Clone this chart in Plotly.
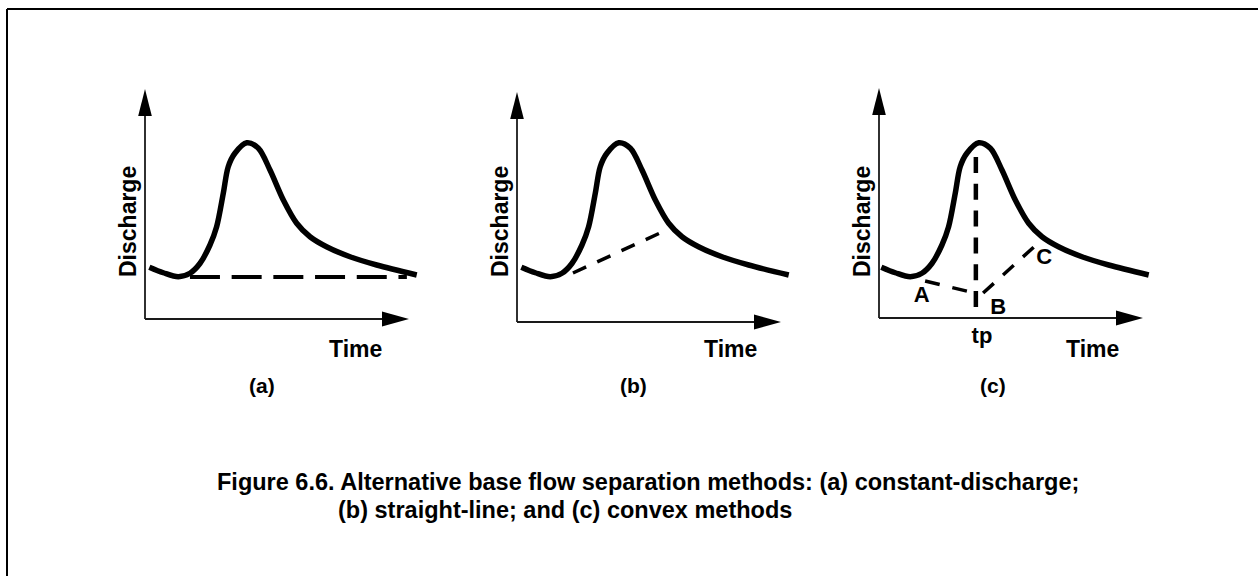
import plotly.graph_objects as go

# ---------------- data (arbitrary time / discharge units) ----------------
PANEL_LABELS = ["(a)", "(b)", "(c)"]
AXIS_TITLES_X = ["Time", "Time", "Time"]
AXIS_TITLES_Y = ["Discharge", "Discharge", "Discharge"]

# storm hydrograph (same shape drawn in all three panels)
HYDRO_T = [0.15, 0.63, 1.15, 1.55, 1.90, 2.24, 2.47, 2.70, 2.87, 3.10, 3.51,
           3.91, 4.31, 4.77, 5.23, 5.69, 6.26, 7.07, 7.99, 9.37]
HYDRO_Q = [2.07, 1.85, 1.69, 1.83, 2.23, 2.96, 3.69, 5.03, 6.09, 6.63, 7.05,
           6.83, 5.96, 4.76, 3.83, 3.29, 2.89, 2.49, 2.16, 1.76]

# where each panel's axes cross (time, discharge)
AXIS_ORIGIN_T = [0.0, 0.0, 0.07]
AXIS_ORIGIN_Q = [0.0, -0.12, 0.04]

# (a) constant-discharge separation
BASE_A_T = [1.55, 9.03]
BASE_A_Q = [1.68, 1.68]
# (b) straight-line separation
BASE_B_T = [1.93, 4.93]
BASE_B_Q = [1.84, 3.44]
# (c) convex method: A -> B, B -> C and the peak-time line
CONV_AB_T = [1.66, 3.15]
CONV_AB_Q = [1.52, 1.10]
CONV_BC_T = [3.66, 5.41]
CONV_BC_Q = [1.04, 2.88]
TP_T = [3.41, 3.41]
TP_Q = [6.48, 0.48]
POINT_LABELS = ["A", "B", "C", "tp"]
POINT_T = [1.54, 4.18, 5.77, 3.62]
POINT_Q = [0.92, 0.44, 2.44, -0.72]

CAPTION_1 = "Figure 6.6. Alternative base flow separation methods: (a) constant-discharge;"
CAPTION_2 = "(b) straight-line; and (c) convex methods"

# ---------------- layout geometry (pixels) ----------------
W, H = 1258, 576
ORIGIN_PX = [(145, 319), (517, 322), (879, 318)]
SX, SY = 29.0, 25.0          # pixels per data unit
SPAN_T, SPAN_Q = 10.0, 10.0
PAD_PX = 30                  # room left of / below the axes
YTIP_PX, XTIP_PX = 230, 264  # axis arrow tip distance from origin
ARROW_LEN, ARROW_HW = 27, 6.8
FONT = "Liberation Sans, Arial, sans-serif"


def fx(p):
    return p / W


def fy(p):
    return 1 - p / H


fig = go.Figure()
shapes = []
annotations = []

for i in range(3):
    ox, oy = ORIGIN_PX[i]
    t0, q0 = AXIS_ORIGIN_T[i], AXIS_ORIGIN_Q[i]
    xa = "xaxis" if i == 0 else f"xaxis{i + 1}"
    ya = "yaxis" if i == 0 else f"yaxis{i + 1}"
    xr = "x" if i == 0 else f"x{i + 1}"
    yr = "y" if i == 0 else f"y{i + 1}"
    fig.update_layout({
        xa: dict(domain=[fx(ox - PAD_PX), fx(ox + SPAN_T * SX)],
                 range=[t0 - PAD_PX / SX, t0 + SPAN_T],
                 visible=False, anchor=yr, fixedrange=True),
        ya: dict(domain=[fy(oy + PAD_PX), fy(oy - SPAN_Q * SY)],
                 range=[q0 - PAD_PX / SY, q0 + SPAN_Q],
                 visible=False, anchor=xr, fixedrange=True),
    })

    # axes with arrowheads
    ytip = q0 + YTIP_PX / SY
    ybase = ytip - ARROW_LEN / SY
    xtip = t0 + XTIP_PX / SX
    xbase = xtip - ARROW_LEN / SX
    axis_line = dict(color="#1a1a1a", width=1.8)
    shapes.append(dict(type="line", xref=xr, yref=yr, x0=t0, y0=q0, x1=t0, y1=ybase + 0.1,
                       line=axis_line))
    shapes.append(dict(type="line", xref=xr, yref=yr, x0=t0, y0=q0, x1=xbase + 0.1, y1=q0,
                       line=axis_line))
    hw_t = ARROW_HW / SX
    hw_q = ARROW_HW * 1.1 / SY
    shapes.append(dict(type="path", xref=xr, yref=yr,
                       path=f"M {t0 - hw_t} {ybase} L {t0} {ytip} L {t0 + hw_t} {ybase} Z",
                       fillcolor="black", line=dict(width=0)))
    shapes.append(dict(type="path", xref=xr, yref=yr,
                       path=f"M {xbase} {q0 - hw_q} L {xtip} {q0} L {xbase} {q0 + hw_q} Z",
                       fillcolor="black", line=dict(width=0)))

    # hydrograph
    fig.add_trace(go.Scatter(x=HYDRO_T, y=HYDRO_Q, mode="lines", xaxis=xr, yaxis=yr,
                             line=dict(color="black", width=5.5, shape="spline", smoothing=0.9),
                             hoverinfo="skip", showlegend=False))

    # labels
    annotations.append(dict(text=f"<b>{AXIS_TITLES_Y[i]}</b>", xref="paper", yref="paper",
                            x=fx(ox - 17), y=fy(222), textangle=-90, showarrow=False,
                            xanchor="center", yanchor="middle",
                            font=dict(family=FONT, size=23, color="black")))
    annotations.append(dict(text=f"<b>{AXIS_TITLES_X[i]}</b>", xref="paper", yref="paper",
                            x=fx(ox + 210 + (0 if i == 0 else 3)), y=fy(349), showarrow=False,
                            xanchor="center", yanchor="middle",
                            font=dict(family=FONT, size=23, color="black")))
    annotations.append(dict(text=f"<b>{PANEL_LABELS[i]}</b>", xref="paper", yref="paper",
                            x=fx(ox + 117 - (0 if i < 2 else 3)), y=fy(385), showarrow=False,
                            xanchor="center", yanchor="middle",
                            font=dict(family=FONT, size=21, color="black")))

# baseflow separation lines
fig.add_trace(go.Scatter(x=BASE_A_T, y=BASE_A_Q, mode="lines", xaxis="x", yaxis="y",
                         line=dict(color="black", width=4, dash="30px,11.7px"),
                         hoverinfo="skip", showlegend=False))
fig.add_trace(go.Scatter(x=BASE_B_T, y=BASE_B_Q, mode="lines", xaxis="x2", yaxis="y2",
                         line=dict(color="black", width=3.5, dash="14.5px,12.2px"),
                         hoverinfo="skip", showlegend=False))
fig.add_trace(go.Scatter(x=CONV_AB_T, y=CONV_AB_Q, mode="lines", xaxis="x3", yaxis="y3",
                         line=dict(color="black", width=3.5, dash="15px,13px"),
                         hoverinfo="skip", showlegend=False))
fig.add_trace(go.Scatter(x=CONV_BC_T, y=CONV_BC_Q, mode="lines", xaxis="x3", yaxis="y3",
                         line=dict(color="black", width=3.5, dash="14.4px,12.5px"),
                         hoverinfo="skip", showlegend=False))
fig.add_trace(go.Scatter(x=TP_T, y=TP_Q, mode="lines", xaxis="x3", yaxis="y3",
                         line=dict(color="black", width=4.5, dash="16px,10.8px"),
                         hoverinfo="skip", showlegend=False))
fig.add_trace(go.Scatter(x=POINT_T, y=POINT_Q, mode="text", xaxis="x3", yaxis="y3",
                         text=[f"<b>{s}</b>" for s in POINT_LABELS], cliponaxis=False,
                         textposition="middle center",
                         textfont=dict(family=FONT, size=22, color="black"),
                         hoverinfo="skip", showlegend=False))

# caption
annotations.append(dict(text=f"<b>{CAPTION_1}</b>", xref="paper", yref="paper",
                        x=fx(215), y=fy(482), showarrow=False, xanchor="left", yanchor="middle",
                        font=dict(family=FONT, size=23.5, color="black")))
annotations.append(dict(text=f"<b>{CAPTION_2}</b>", xref="paper", yref="paper",
                        x=fx(336), y=fy(510), showarrow=False, xanchor="left", yanchor="middle",
                        font=dict(family=FONT, size=23.5, color="black")))

# frame (only top and left edges fall inside the picture)
frame = dict(color="black", width=2)
shapes.append(dict(type="line", xref="paper", yref="paper", x0=fx(7), y0=fy(9), x1=fx(1300), y1=fy(9),
                   line=frame))
shapes.append(dict(type="line", xref="paper", yref="paper", x0=fx(7), y0=fy(9), x1=fx(7), y1=fy(700),
                   line=frame))

fig.update_layout(width=W, height=H, autosize=False,
                  margin=dict(l=0, r=0, t=0, b=0, pad=0),
                  paper_bgcolor="white", plot_bgcolor="rgba(0,0,0,0)",
                  shapes=shapes, annotations=annotations, showlegend=False)

fig.write_html("out.html", config={"displayModeBar": False, "staticPlot": True},
               post_script="document.body.style.margin='0px';document.body.style.overflow='hidden';")
